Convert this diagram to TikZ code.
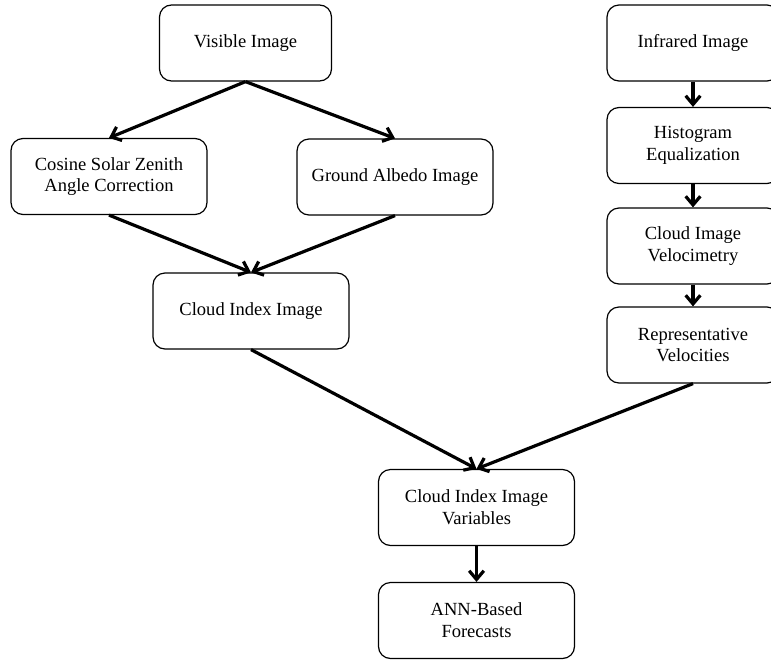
\documentclass[tikz,border=0pt]{standalone}
\usepackage{fontspec}
\setmainfont{Liberation Serif}
\usetikzlibrary{arrows.meta}

\begin{document}
\begin{tikzpicture}[
x=0.75pt, y=-0.75pt,
font=\fontsize{13.9}{16.3}\selectfont, box/.style={
    draw=black, line width=0.9pt, rounded corners=9pt,
    minimum width=147pt, minimum height=57pt,
    align=center, fill=white},
narrow/.style={box, minimum width=129pt},
flow/.style={-{Straight Barb[length=6.5pt,width=11pt]}, line width=2.4pt},
]

\useasboundingbox (0,0) rectangle (771,661);

\node[narrow] (vis) at (245.5,43) {Visible Image};
\node[box] (cos) at (109,176.5) {Cosine Solar Zenith\\Angle Correction};
\node[box] (alb) at (395,177) {Ground Albedo Image};
\node[box] (cii) at (251,311) {Cloud Index Image};

\node[narrow] (ir) at (693,43) {Infrared Image};
\node[narrow] (hist) at (693,145.5) {Histogram\\Equalization};
\node[narrow] (civ) at (693,246) {Cloud Image\\Velocimetry};
\node[narrow] (rep) at (693,345) {Representative\\Velocities};

\node[box] (var) at (476.5,507.5) {Cloud Index Image\\Variables};
\node[box] (ann) at (476.5,620.5) {ANN-Based\\Forecasts};

\draw[flow] (vis.south) to (cos.north);
\draw[flow] (vis.south) to (alb.north);
\draw[flow] (cos.south) to (cii.north);
\draw[flow] (alb.south) to (cii.north);

\draw[flow] (ir) to (hist);
\draw[flow] (hist) to (civ);
\draw[flow] (civ) to (rep);

\draw[flow] (cii.south) to (var.north);
\draw[flow] (rep.south) to (var.north);
\draw[flow] (var) to (ann);
%\draw[flow] (var.south) -- (ann.north);

\end{tikzpicture}
\end{document}
